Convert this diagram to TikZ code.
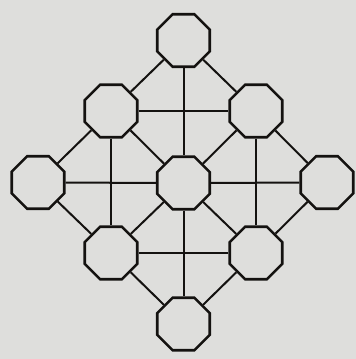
\documentclass[tikz,border=0pt]{standalone}
\usepackage{tikz}
\usetikzlibrary{shapes.geometric, positioning}
\definecolor{paper}{RGB}{222,222,220}
\definecolor{ink}{RGB}{20,18,16}

\begin{document}
\begin{tikzpicture}[x=0.05cm, y=-0.05cm]
    \tikzstyle{octa} = [regular polygon, regular polygon sides=8, draw=ink, fill=paper, line width=1.3mm, minimum size=2.84cm, inner sep=0pt]
    \tikzstyle{edge} = [draw=ink, line width=1mm]

    % background
    \fill [paper] (0,0) rectangle (356,359);
    \useasboundingbox (0,0) rectangle (356,359);

    \node [octa] (top) at (183.5,40.5) {};
    \node [octa] (ul) at (111,111) {};
    \node [octa] (ur) at (256,111) {};
    \node [octa] (left) at (38,182.5) {};
    \node [octa] (mid) at (183.5,183) {};
    \node [octa] (right) at (327,182.5) {};
    \node [octa] (ll) at (111,253) {};
    \node [octa] (lr) at (256,253) {};
    \node [octa] (bot) at (183.5,324) {};

    \draw [edge] (top) -- (ul);
    \draw [edge] (top) -- (ur);
    \draw [edge] (top) -- (mid);
    \draw [edge] (ul) -- (ur);
    \draw [edge] (ul) -- (left);
    \draw [edge] (ul) -- (mid);
    \draw [edge] (ul) -- (ll);
    \draw [edge] (ur) -- (right);
    \draw [edge] (ur) -- (mid);
    \draw [edge] (ur) -- (lr);
    \draw [edge] (left) -- (mid);
    \draw [edge] (mid) -- (right);
    \draw [edge] (left) -- (ll);
    \draw [edge] (right) -- (lr);
    \draw [edge] (mid) -- (ll);
    \draw [edge] (mid) -- (lr);
    \draw [edge] (mid) -- (bot);
    \draw [edge] (ll) -- (lr);
    \draw [edge] (ll) -- (bot);
    \draw [edge] (lr) -- (bot);
\end{tikzpicture}
\end{document}
